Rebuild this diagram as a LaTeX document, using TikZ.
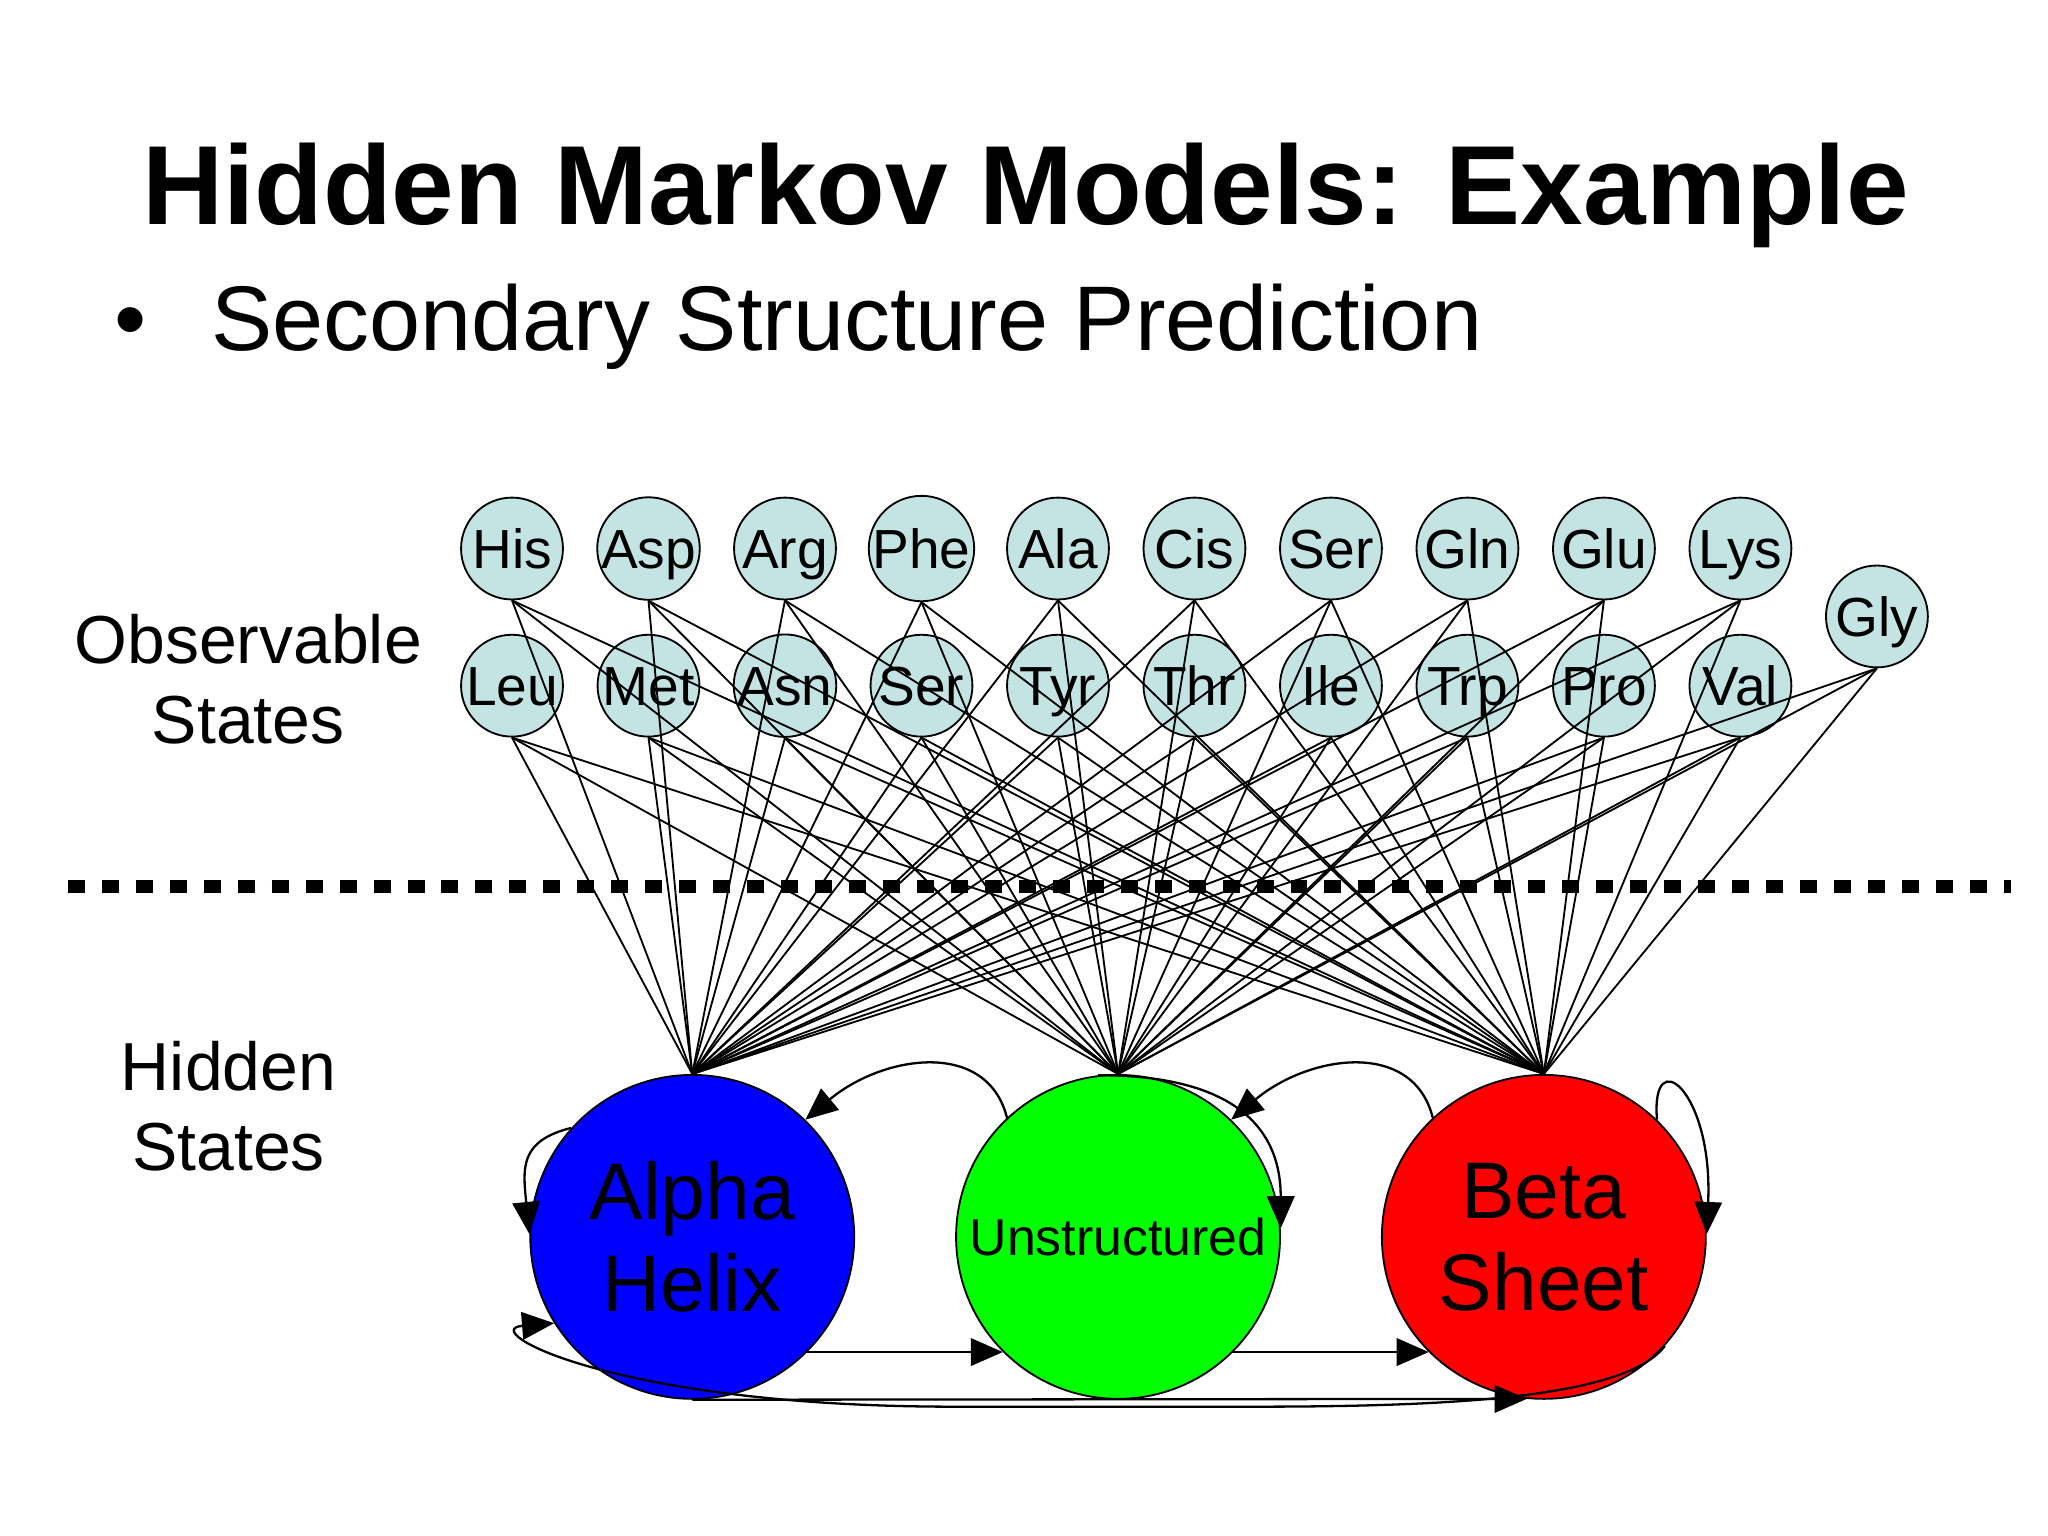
\documentclass[tikz,border=0pt]{standalone}
\usepackage{fontspec}
\setmainfont{Liberation Sans}
\usetikzlibrary{arrows.meta}
\definecolor{obs}{RGB}{196,228,228}
\begin{document}
\begin{tikzpicture}[
  obsn/.style={circle,draw,fill=obs,minimum size=0.78cm,inner sep=0pt,text height=8.6pt,text depth=0pt,font=\fontsize{12}{12}\selectfont},
  hid/.style={circle,draw,minimum size=2.48cm,inner sep=0pt,align=center},
  edge/.style={line width=0.4pt},
  arr/.style={line width=0.5pt,-{Triangle[length=7pt,width=6pt]}}
]
\useasboundingbox (0,0) rectangle (15.68,11.76);
\node[font=\bfseries\fontsize{24.5}{25}\selectfont] (title) at (7.85,10.26) {Hidden Markov Models: Example};
\node[font=\fontsize{20}{20}\selectfont,anchor=west] (sub) at (0.75,9.26) {\textbullet\hspace{0.5cm}Secondary Structure Prediction};
\node[font=\fontsize{14.8}{17.5}\selectfont,align=center] (obslab) at (1.9,6.56) {Observable\\States};
\node[font=\fontsize{14.8}{17.5}\selectfont,align=center] (hidlab) at (1.75,3.29) {Hidden\\States};
% hidden states
\node[hid,fill={rgb,255:red,0;green,0;blue,255},font=\fontsize{17.5}{20}\selectfont] (A) at (5.30,2.29) {Alpha\\Helix};
\node[hid,fill={rgb,255:red,0;green,255;blue,0},font=\fontsize{11.3}{13}\selectfont] (U) at (8.56,2.29) {Unstructured};
\node[hid,fill={rgb,255:red,255;green,0;blue,0},font=\fontsize{17.5}{20}\selectfont] (B) at (11.82,2.29) {Beta\\Sheet};
% observables
\foreach \n/\i in {His/0,Asp/1,Arg/2,Phe/3,Ala/4,Cis/5,Ser/6,Gln/7,Glu/8,Lys/9}
  \node[obsn] (t\i) at (3.92+1.045*\i,7.56) {\n};
\foreach \n/\i in {Leu/0,Met/1,Asn/2,Ser/3,Tyr/4,Thr/5,Ile/6,Trp/7,Pro/8,Val/9}
  \node[obsn] (b\i) at (3.92+1.045*\i,6.51) {\n};
\node[obsn] (gly) at (14.37,7.04) {Gly};
\foreach \i in {0,...,9}{
  \foreach \h in {A,U,B}{
    \draw[edge] (t\i.south) -- (\h.north);
    \draw[edge] (b\i.south) -- (\h.north);
  }}
\foreach \h in {A,U,B} \draw[edge] (gly.south) -- (\h.north);
% dotted line
\coordinate (d1) at (0.52,4.97);
\coordinate (d2) at (15.40,4.97);
\draw[line width=0.1cm,dash pattern=on 0.13cm off 0.13cm] (d1) -- (d2);
% transitions
\draw[arr] (A.138) .. controls +(-0.4,-0.1) and +(-0.05,0.5) .. (A.179);
\draw[arr] (U.133) .. controls +(-0.15,0.6) and +(0.6,0.5) .. (A.46);
\draw[arr] (B.133) .. controls +(-0.15,0.6) and +(0.6,0.5) .. (U.46);
\draw[arr] (U.97) .. controls +(1.0,0) and +(0,0.8) .. (U.3);
\draw[arr] (B.46) .. controls +(-0.05,0.6) and +(0.05,1.1) .. (B.1);
\draw[arr] (A.-45) -- (U.-135);
\draw[arr] (U.-45) -- (B.-135);
\draw[arr] (A.south) -- (B.-96);
\coordinate (m1) at (9.6,0.99);
\coordinate (m2) at (7.3,0.99);
\draw[arr] (B.-42) .. controls +(-0.3,-0.4) and +(1.5,0) .. (m1) -- (m2) .. controls +(-2.6,0) and +(-0.6,-0.05) .. (A.-148);
\end{tikzpicture}
\end{document}
